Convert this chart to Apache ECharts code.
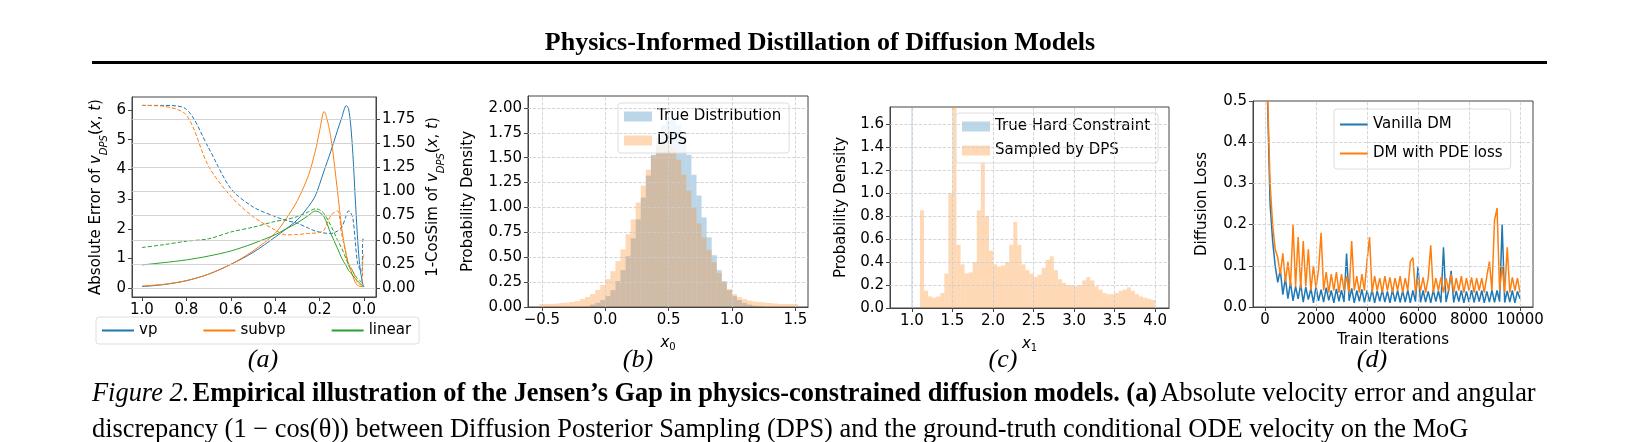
<!DOCTYPE html>
<html><head><meta charset="utf-8">
<script src="https://cdn.jsdelivr.net/npm/echarts@6/dist/echarts.min.js"></script>
<style>html,body{margin:0;padding:0;background:#fff}#c{width:1639px;height:442px}</style>
</head><body><div id="c"></div>
<script>
// ---------- Panel (a) ----------
const aX = [1.0,0.9,0.8,0.7,0.6,0.5,0.4,0.35,0.3,0.25,0.22,0.2,0.18,0.15,0.12,0.1,0.08,0.07,0.06,0.05,0.04,0.03,0.02,0.01,0.005,0.0];
const vpAbs     = [0.05,0.12,0.25,0.47,0.8,1.2,1.72,2.0,2.3,2.75,3.1,3.5,3.95,4.6,5.3,5.75,6.15,6.05,5.5,4.5,3.1,1.8,0.8,0.3,0.12,0.05];
const subvpAbs  = [0.07,0.13,0.25,0.47,0.8,1.25,1.85,2.35,2.95,3.8,4.6,5.3,5.95,5.1,3.3,2.0,1.1,0.8,0.6,0.4,0.2,0.1,0.06,0.05,0.05,0.05];
const linearAbs = [0.78,0.86,0.95,1.08,1.25,1.5,1.8,2.0,2.2,2.45,2.6,2.55,2.4,1.85,1.35,1.0,0.75,0.6,0.52,0.42,0.32,0.25,0.17,0.1,0.07,0.05];
const vpCos     = [1.89,1.89,1.85,1.45,1.03,0.84,0.74,0.70,0.67,0.62,0.59,0.58,0.57,0.565,0.59,0.63,0.75,0.80,0.78,0.72,0.5,0.27,0.2,0.17,0.51,0.5];
const subvpCos  = [1.89,1.88,1.79,1.26,0.95,0.74,0.60,0.55,0.555,0.565,0.57,0.575,0.6,0.75,0.8,0.55,0.35,0.26,0.22,0.17,0.12,0.06,0.04,0.03,0.3,0.35];
const linearCos = [0.42,0.45,0.485,0.51,0.58,0.63,0.69,0.71,0.74,0.79,0.82,0.81,0.77,0.65,0.5,0.41,0.3,0.24,0.2,0.17,0.13,0.10,0.08,0.06,0.05,0.05];
const aXTicks = [1.0,0.8,0.6,0.4,0.2,0.0];
const aLeftTicks = [0,1,2,3,4,5,6];
const aRightTicks = [0,0.25,0.5,0.75,1.0,1.25,1.5,1.75];

// ---------- Panel (b) ----------
const bCenters = [-0.5,-0.46,-0.42,-0.38,-0.34,-0.3,-0.26,-0.22,-0.18,-0.14,-0.1,-0.06,-0.02,0.02,0.06,0.1,0.14,0.18,0.22,0.26,0.3,0.34,0.38,0.42,0.46,0.5,0.54,0.58,0.62,0.66,0.7,0.74,0.78,0.82,0.86,0.9,0.94,0.98,1.02,1.06,1.1,1.14,1.18,1.22,1.26,1.3,1.34,1.38,1.42,1.46,1.5];
const bTrue = [0,0,0,0,0,0,0,0,0,0,0.024,0.042,0.07,0.11,0.17,0.26,0.37,0.51,0.69,0.88,1.1,1.32,1.53,1.7,1.83,1.88,1.9,1.83,1.72,1.53,1.33,1.12,0.9,0.7,0.52,0.37,0.26,0.17,0.11,0.07,0.042,0.024,0.013,0.006,0,0,0,0,0,0,0];
const bDps  = [0.03,0.03,0.03,0.035,0.04,0.045,0.05,0.06,0.08,0.1,0.13,0.17,0.22,0.28,0.36,0.46,0.58,0.73,0.88,1.05,1.22,1.38,1.52,1.62,1.68,1.66,1.6,1.48,1.33,1.17,1.0,0.84,0.7,0.57,0.45,0.34,0.25,0.18,0.13,0.1,0.08,0.065,0.055,0.05,0.045,0.04,0.035,0.03,0.03,0.03,0.03];
const bXTicks = [-0.5,0.0,0.5,1.0,1.5];

// ---------- Panel (c) ----------
const cCenters = [1.125,1.175,1.225,1.275,1.325,1.375,1.425,1.475,1.525,1.575,1.625,1.675,1.725,1.775,1.825,1.875,1.925,1.975,2.025,2.075,2.125,2.175,2.225,2.275,2.325,2.375,2.425,2.475,2.525,2.575,2.625,2.675,2.725,2.775,2.825,2.875,2.925,2.975,3.025,3.075,3.125,3.175,3.225,3.275,3.325,3.375,3.425,3.475,3.525,3.575,3.625,3.675,3.725,3.775,3.825,3.875,3.925,3.975];
const cDps = [0.85,0.15,0.1,0.09,0.1,0.13,0.3,1.0,2.2,0.55,0.38,0.3,0.31,0.4,0.85,1.28,0.8,0.5,0.38,0.36,0.37,0.4,0.55,0.75,0.55,0.38,0.33,0.3,0.27,0.29,0.35,0.42,0.45,0.33,0.25,0.22,0.2,0.2,0.19,0.2,0.24,0.27,0.24,0.19,0.16,0.13,0.12,0.12,0.13,0.15,0.16,0.18,0.15,0.12,0.1,0.09,0.08,0.07];
const cTrueCenters = [1.0];
const cTrue = [20];
const cXTicks = [1.0,1.5,2.0,2.5,3.0,3.5,4.0];

// ---------- Panel (d) ----------
const dIter = [100,200,300,400,500,600,700,800,900,1000,1100,1200,1300,1400,1500,1600,1700,1800,1900,2000,2100,2200,2300,2400,2500,2600,2700,2800,2900,3000,3100,3200,3300,3400,3500,3600,3700,3800,3900,4000,4100,4200,4300,4400,4500,4600,4700,4800,4900,5000,5100,5200,5300,5400,5500,5600,5700,5800,5900,6000,6100,6200,6300,6400,6500,6600,6700,6800,6900,7000,7100,7200,7300,7400,7500,7600,7700,7800,7900,8000,8100,8200,8300,8400,8500,8600,8700,8800,8900,9000,9100,9200,9300,9400,9500,9600,9700,9800,9900,10000];
const dVanilla = [0.5,0.25,0.16,0.1,0.06,0.09,0.03,0.07,0.02,0.06,0.015,0.05,0.02,0.055,0.012,0.048,0.018,0.045,0.01,0.05,0.015,0.042,0.012,0.047,0.016,0.04,0.01,0.044,0.014,0.041,0.012,0.13,0.015,0.045,0.01,0.04,0.014,0.043,0.011,0.04,0.013,0.042,0.01,0.039,0.014,0.041,0.012,0.038,0.01,0.042,0.013,0.04,0.011,0.039,0.012,0.041,0.01,0.04,0.013,0.098,0.011,0.04,0.012,0.038,0.01,0.041,0.013,0.039,0.011,0.145,0.012,0.04,0.088,0.011,0.039,0.013,0.04,0.01,0.038,0.012,0.041,0.011,0.039,0.013,0.04,0.01,0.038,0.012,0.041,0.011,0.04,0.013,0.2,0.011,0.039,0.012,0.04,0.01,0.038,0.02];
const dPde = [0.52,0.3,0.2,0.14,0.12,0.08,0.13,0.06,0.11,0.05,0.2,0.05,0.17,0.045,0.16,0.05,0.14,0.04,0.1,0.045,0.09,0.18,0.04,0.085,0.035,0.08,0.04,0.085,0.035,0.08,0.04,0.075,0.035,0.16,0.04,0.075,0.035,0.08,0.04,0.11,0.17,0.035,0.075,0.04,0.07,0.035,0.075,0.04,0.072,0.035,0.07,0.04,0.075,0.035,0.07,0.04,0.11,0.12,0.035,0.07,0.04,0.072,0.035,0.07,0.15,0.035,0.07,0.04,0.072,0.035,0.07,0.04,0.08,0.035,0.07,0.04,0.075,0.035,0.07,0.04,0.072,0.035,0.07,0.04,0.07,0.035,0.075,0.11,0.04,0.21,0.24,0.04,0.1,0.035,0.145,0.035,0.072,0.04,0.07,0.035];
const dXTicks = [0,2000,4000,6000,8000,10000];

const BLUE='#1f77b4', ORANGE='#ff7f0e', GREEN='#2ca02c';
const FONT='DejaVu Sans';
const FS=15;
const tickLbl = {color:'#000', fontFamily:FONT, fontSize:FS, margin:6};
const axLine = {show:true, onZero:false, lineStyle:{color:'#444', width:1}};
const tick = {show:true, length:4, lineStyle:{color:'#444'}};
const pair = (xs, ys) => xs.map((x,i)=>[x,ys[i]]);

function histSeries(xi, yi, centers, vals, width, color, name){
  return {type:'custom', name, xAxisIndex:xi, yAxisIndex:yi, clip:true,
    itemStyle:{color},
    data: pair(centers, vals),
    renderItem:(p, api)=>{
      const x=api.value(0), y=api.value(1);
      const a=api.coord([x-width/2, y]), b=api.coord([x+width/2, 0]);
      const r = echarts.graphic.clipRectByRect({x:a[0],y:a[1],width:b[0]-a[0],height:b[1]-a[1]},
        {x:p.coordSys.x,y:p.coordSys.y,width:p.coordSys.width,height:p.coordSys.height});
      return r && {type:'rect', shape:r, style:{fill:color}};
    }};
}
function gridLines(xi, yi, xs, ys, color, type){
  return {type:'line', xAxisIndex:xi, yAxisIndex:yi, data:[], silent:true, z:0,
    markLine:{silent:true, symbol:'none', animation:false, label:{show:false}, lineStyle:{color, type, width:0.8},
      data:xs.map(v=>({xAxis:v})).concat(ys.map(v=>({yAxis:v})))}};
}

const vRich = {i:{fontStyle:'italic',fontFamily:FONT,fontSize:FS,color:'#000'},
  s:{fontStyle:'italic',fontFamily:FONT,fontSize:10,color:'#000',verticalAlign:'bottom',padding:[0,0,-5,0]},
  n:{fontFamily:FONT,fontSize:FS,color:'#000'}};
const xRich = {i:{fontStyle:'italic',fontFamily:FONT,fontSize:FS,color:'#000',lineHeight:18},
  s:{fontFamily:FONT,fontSize:10,color:'#000',lineHeight:18,verticalAlign:'bottom',padding:[6,0,0,0]}};
const nameStyle = {color:'#000', fontFamily:FONT, fontSize:FS};
const legTxt = {fontFamily:FONT,fontSize:FS,color:'#000'};
const gridBox = {show:true, borderColor:'#444', borderWidth:1, backgroundColor:'transparent'};

const option = {
  animation:false,
  grid:[
    Object.assign({left:132, top:97, width:244, height:200}, gridBox),
    Object.assign({left:528, top:96, width:280, height:211}, gridBox),
    Object.assign({left:890, top:107, width:279, height:201}, gridBox),
    Object.assign({left:1253, top:101, width:280, height:206}, gridBox)
  ],
  xAxis:[
    {gridIndex:0, type:'value', inverse:true, min:-0.054, max:1.045, axisLine:axLine, axisTick:Object.assign({customValues:aXTicks},tick),
      axisLabel:Object.assign({customValues:aXTicks, formatter:v=>v.toFixed(1)},tickLbl), splitLine:{show:false},
      name:'X Axis', nameLocation:'middle', nameGap:28, nameTextStyle:{color:'#e4e4e4',fontSize:8}},
    {gridIndex:1, type:'value', min:-0.61, max:1.6, axisLine:axLine, axisTick:Object.assign({customValues:bXTicks},tick),
      axisLabel:Object.assign({customValues:bXTicks, formatter:v=>v.toFixed(1).replace('-','\u2212')},tickLbl), splitLine:{show:false},
      name:'{i|x}{s|0}', nameLocation:'middle', nameGap:27, nameTextStyle:{rich:xRich}},
    {gridIndex:2, type:'value', min:0.73, max:4.17, axisLine:axLine, axisTick:Object.assign({customValues:cXTicks},tick),
      axisLabel:Object.assign({customValues:cXTicks, formatter:v=>v.toFixed(1)},tickLbl), splitLine:{show:false},
      name:'{i|x}{s|1}', nameLocation:'middle', nameGap:27, nameTextStyle:{rich:xRich}},
    {gridIndex:3, type:'value', min:-470, max:10510, axisLine:axLine, axisTick:Object.assign({customValues:dXTicks},tick),
      axisLabel:Object.assign({customValues:dXTicks, formatter:v=>String(v)},tickLbl), splitLine:{show:false},
      name:'Train Iterations', nameLocation:'middle', nameGap:26, nameTextStyle:nameStyle}
  ],
  yAxis:[
    {gridIndex:0, type:'value', min:-0.3, max:6.44, axisLine:axLine, axisTick:Object.assign({customValues:aLeftTicks},tick),
      axisLabel:Object.assign({customValues:aLeftTicks},tickLbl), splitLine:{show:false},
      name:'Absolute Error of {i|v}{s|DPS}{n|(}{i|x}{n|, }{i|t}{n|)}', nameLocation:'middle', nameGap:28, nameTextStyle:{rich:vRich, fontFamily:FONT, fontSize:FS, color:'#000'}},
    {gridIndex:0, type:'value', position:'right', min:-0.092, max:1.977, axisLine:axLine, axisTick:Object.assign({customValues:aRightTicks},tick),
      axisLabel:Object.assign({customValues:aRightTicks, formatter:v=>v.toFixed(2)},tickLbl), splitLine:{show:false},
      name:'1-CosSim of {i|v}{s|DPS}{n|(}{i|x}{n|, }{i|t}{n|)}', nameLocation:'middle', nameGap:50, nameRotate:90, nameTextStyle:{rich:vRich, fontFamily:FONT, fontSize:FS, color:'#000'}},
    {gridIndex:1, type:'value', min:0, max:2.12, interval:0.25, axisLine:axLine, axisTick:tick,
      axisLabel:Object.assign({showMaxLabel:false, formatter:v=>v.toFixed(2)},tickLbl), splitLine:{show:false},
      name:'Probability Density', nameLocation:'middle', nameGap:52, nameTextStyle:nameStyle},
    {gridIndex:2, type:'value', min:0, max:1.75, interval:0.2, axisLine:axLine, axisTick:tick,
      axisLabel:Object.assign({showMaxLabel:false, formatter:v=>v.toFixed(1)},tickLbl), splitLine:{show:false},
      name:'Probability Density', nameLocation:'middle', nameGap:41, nameTextStyle:nameStyle},
    {gridIndex:3, type:'value', min:0, max:0.5, interval:0.1, axisLine:axLine, axisTick:tick,
      axisLabel:Object.assign({formatter:v=>v.toFixed(1)},tickLbl), splitLine:{show:false},
      name:'Diffusion Loss', nameLocation:'middle', nameGap:43, nameTextStyle:nameStyle}
  ],
  legend:[
    {data:[{name:'vp'},{name:'subvp'},{name:'linear'}], left:96, top:317, itemGap:46, itemWidth:32, itemHeight:2, icon:'rect',
      padding:[6,8,6,6], borderColor:'#ddd', borderWidth:1, borderRadius:3, textStyle:legTxt},
    {data:['True Distribution','DPS'], orient:'vertical', left:618, top:103, itemWidth:28, itemHeight:10, icon:'rect', itemGap:9,
      padding:[6,8,5,6], backgroundColor:'rgba(255,255,255,0.8)', borderColor:'#ddd', borderWidth:1, borderRadius:3, textStyle:legTxt},
    {data:['True Hard Constraint','Sampled by DPS'], orient:'vertical', left:956, top:113, itemWidth:28, itemHeight:10, icon:'rect', itemGap:9,
      padding:[6,8,5,6], backgroundColor:'rgba(255,255,255,0.8)', borderColor:'#ddd', borderWidth:1, borderRadius:3, textStyle:legTxt},
    {data:['Vanilla DM','DM with PDE loss'], orient:'vertical', left:1334, top:109, itemWidth:28, itemHeight:2, icon:'rect', itemGap:14,
      padding:[8,8,8,6], backgroundColor:'rgba(255,255,255,0.8)', borderColor:'#ddd', borderWidth:1, borderRadius:3, textStyle:legTxt}
  ],
  series:[
    gridLines(0,1,[],aRightTicks,'#c8c8c8','solid'),
    {type:'line', name:'vp', xAxisIndex:0, yAxisIndex:0, data:pair(aX,vpAbs), smooth:0.3, showSymbol:false, lineStyle:{color:BLUE,width:1}, itemStyle:{color:BLUE}},
    {type:'line', name:'subvp', xAxisIndex:0, yAxisIndex:0, data:pair(aX,subvpAbs), smooth:0.3, showSymbol:false, lineStyle:{color:ORANGE,width:1}, itemStyle:{color:ORANGE}},
    {type:'line', name:'linear', xAxisIndex:0, yAxisIndex:0, data:pair(aX,linearAbs), smooth:0.3, showSymbol:false, lineStyle:{color:GREEN,width:1}, itemStyle:{color:GREEN}},
    {type:'line', xAxisIndex:0, yAxisIndex:1, data:pair(aX,vpCos), smooth:0.3, showSymbol:false, lineStyle:{color:BLUE,width:1,type:[4,2]}},
    {type:'line', xAxisIndex:0, yAxisIndex:1, data:pair(aX,subvpCos), smooth:0.3, showSymbol:false, lineStyle:{color:ORANGE,width:1,type:[4,2]}},
    {type:'line', xAxisIndex:0, yAxisIndex:1, data:pair(aX,linearCos), smooth:0.3, showSymbol:false, lineStyle:{color:GREEN,width:1,type:[4,2]}},
    gridLines(1,2,bXTicks,[0.25,0.5,0.75,1,1.25,1.5,1.75,2],'#ccc','dashed'),
    histSeries(1,2,bCenters,bTrue,0.04,'rgba(31,119,180,0.3)','True Distribution'),
    histSeries(1,2,bCenters,bDps,0.04,'rgba(255,127,14,0.3)','DPS'),
    gridLines(2,3,cXTicks,[0.2,0.4,0.6,0.8,1.0,1.2,1.4,1.6],'#ccc','dashed'),
    histSeries(2,3,cTrueCenters,cTrue,0.012,'rgba(31,119,180,0.3)','True Hard Constraint'),
    histSeries(2,3,cCenters,cDps,0.05,'rgba(255,127,14,0.3)','Sampled by DPS'),
    gridLines(3,4,dXTicks,[0.1,0.2,0.3,0.4],'#ccc','dashed'),
    {type:'line', name:'Vanilla DM', xAxisIndex:3, yAxisIndex:4, data:pair(dIter,dVanilla), showSymbol:false, lineStyle:{color:BLUE,width:1.5}, itemStyle:{color:BLUE}},
    {type:'line', name:'DM with PDE loss', xAxisIndex:3, yAxisIndex:4, data:pair(dIter,dPde), showSymbol:false, lineStyle:{color:ORANGE,width:1.5}, itemStyle:{color:ORANGE}, z:3}
  ],
  graphic:[
    {type:'text', x:820, y:43, style:{text:'Physics-Informed Distillation of Diffusion Models', font:'bold 26px "Liberation Serif"', fill:'#000', align:'center', verticalAlign:'middle'}},
    {type:'rect', shape:{x:92,y:61,width:1455,height:3}, style:{fill:'#000'}},
    {type:'text', x:263, y:360, style:{text:'(a)', font:'italic 26px "Liberation Serif"', fill:'#000', align:'center', verticalAlign:'middle'}},
    {type:'text', x:638, y:360, style:{text:'(b)', font:'italic 26px "Liberation Serif"', fill:'#000', align:'center', verticalAlign:'middle'}},
    {type:'text', x:1003, y:360, style:{text:'(c)', font:'italic 26px "Liberation Serif"', fill:'#000', align:'center', verticalAlign:'middle'}},
    {type:'text', x:1372, y:360, style:{text:'(d)', font:'italic 26px "Liberation Serif"', fill:'#000', align:'center', verticalAlign:'middle'}},
    {type:'text', x:92, y:394, style:{verticalAlign:'middle', text:'{it|Figure 2.} {b|Empirical illustration of the Jensen\u2019s Gap in physics-constrained diffusion models. (a)} {r|Absolute velocity error and angular}',
      rich:{it:{font:'italic 26.4px "Liberation Serif"',fill:'#000'}, b:{font:'bold 26.4px "Liberation Serif"',fill:'#000'}, r:{font:'26.4px "Liberation Serif"',fill:'#000'}}}},
    {type:'text', x:92, y:430, style:{verticalAlign:'middle', text:'discrepancy (1 \u2212 cos(\u03b8)) between Diffusion Posterior Sampling (DPS) and the ground-truth conditional ODE velocity on the MoG', font:'26.4px "Liberation Serif"', fill:'#000'}}
  ]
};
echarts.init(document.getElementById('c')).setOption(option);
</script></body></html>
